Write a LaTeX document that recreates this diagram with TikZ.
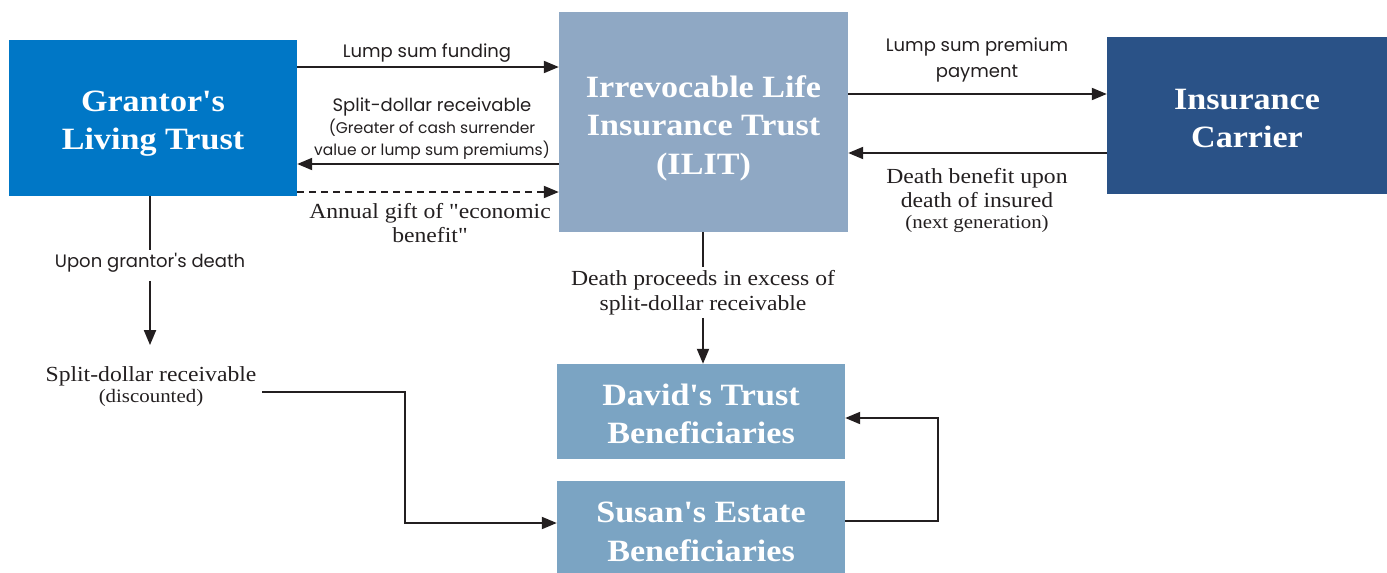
\documentclass[tikz,border=0pt]{standalone}
\usepackage{fontspec}
\setmainfont{Liberation Serif}[FakeStretch=1.1,Ligatures=TeXOff]
\newfontfamily\labsans{Poppins}[Ligatures=TeXOff]
\usetikzlibrary{arrows.meta}
\definecolor{grantorblue}{RGB}{0,119,198}
\definecolor{ilitblue}{RGB}{143,168,196}
\definecolor{carrierblue}{RGB}{42,82,135}
\definecolor{benblue}{RGB}{123,164,195}
\definecolor{ink}{RGB}{35,31,32}
\newcommand\topsp[1]{\rule{0pt}{#1pt}}
\tikzset{
  box/.style={fill=#1, draw=none, inner sep=0pt, text=white, align=center,
    font=\fontsize{31}{38.5}\selectfont\bfseries},
  slab/.style={text=ink, align=center, inner sep=3pt, font=\labsans\fontsize{18}{24}\selectfont},
  serlab/.style={text=ink, align=center, inner sep=3pt, font=\fontsize{21.5}{24.5}\selectfont},
  conn/.style={draw=ink, line width=2pt},
  arr/.style={conn, -{Triangle[length=15pt,width=12pt]}},
}
\begin{document}
\begin{tikzpicture}[x=1pt,y=-1pt]
\useasboundingbox (0,0) rectangle (1387,573);
% boxes
\node[box=grantorblue, minimum width=288pt, minimum height=156pt] (grantor) at (153,118) {\topsp{32}Grantor's\\Living Trust};
\node[box=ilitblue, minimum width=289pt, minimum height=220pt] (ilit) at (703.5,122) {\topsp{34}Irrevocable Life\\Insurance Trust\\(ILIT)};
\node[box=carrierblue, minimum width=280pt, minimum height=157pt] (carrier) at (1247,115.5) {\topsp{26.5}Insurance\\Carrier};
\node[box=benblue, minimum width=288pt, minimum height=95pt] (david) at (701,411.5) {\topsp{26}David's Trust\\Beneficiaries};
\node[box=benblue, minimum width=288pt, minimum height=92pt] (susan) at (701,527) {\topsp{30}Susan's Estate\\Beneficiaries};
% labels
\node[slab] (lumpfund) at (427,53) {Lump sum funding};
\node[slab] (splitrec) at (432,129) {Split-dollar receivable\\[-2pt]{\fontsize{15.5}{22}\selectfont (Greater of cash surrender}\\[-2pt]{\fontsize{15.5}{22}\selectfont value or lump sum premiums)}};
\node[serlab] (gift) at (430,223) {Annual gift of "economic\\benefit"};
\node[slab] (premium) at (977,60) {Lump sum premium\\[2pt]payment};
\node[serlab] (deathben) at (977,200) {Death benefit upon\\death of insured\\[-4pt]{\fontsize{19}{20}\selectfont (next generation)}};
\node[slab] (upon) at (150,263) {Upon grantor's death};
\node[serlab] (sdrec) at (151,386.5) {Split-dollar receivable\\[-3pt]{\fontsize{19}{20}\selectfont (discounted)}};
\node[serlab] (proceeds) at (703,292.5) {Death proceeds in excess of\\split-dollar receivable};
\coordinate (sdstart) at (262,392);
% connectors
\draw[arr] (grantor.east |- 0,67) -- (ilit.west |- 0,67);
\draw[arr] (ilit.west |- 0,164) -- (grantor.east |- 0,164);
\draw[arr, dashed, dash pattern=on 7pt off 5pt] (grantor.east |- 0,192) -- (ilit.west |- 0,192);
\draw[arr] (ilit.east |- 0,94) -- (carrier.west |- 0,94);
\draw[arr] (carrier.west |- 0,153) -- (ilit.east |- 0,153);
\draw[conn] (ilit.south -| proceeds) -- (proceeds.north);
\draw[arr] (proceeds.south) -- (david.north -| proceeds);
\draw[conn] (grantor.south -| upon) -- (upon.north);
\draw[arr, shorten <=5pt, shorten >=18pt] (upon.south) -- (sdrec.north -| upon);
\draw[arr] (sdstart) -- ++(143,0) |- (susan.west |- 0,523);
\draw[arr] (susan.east |- 0,521) -- ++(93,0) |- (david.east |- 0,418);
\end{tikzpicture}
\end{document}
